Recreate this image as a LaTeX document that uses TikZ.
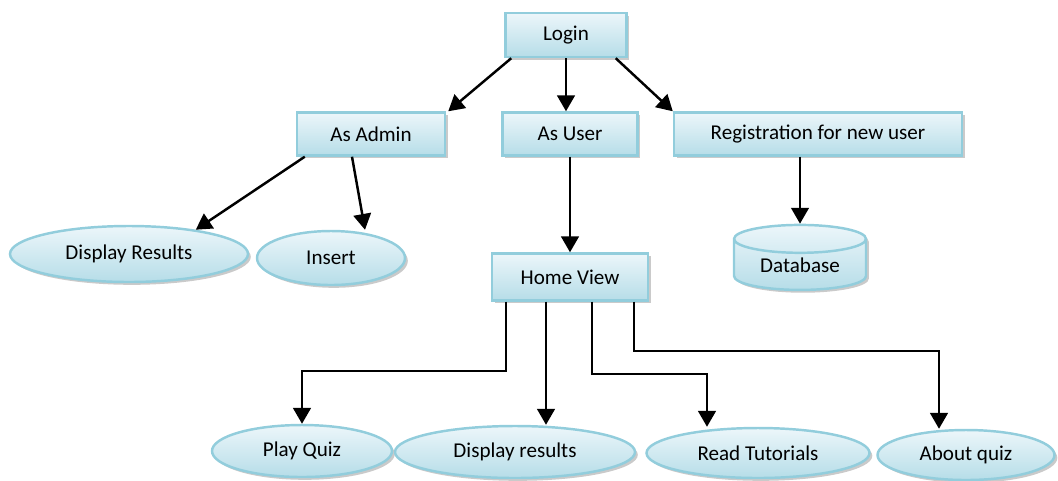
\documentclass[tikz,border=0pt]{standalone}
\usepackage{fontspec}
\setmainfont{Carlito}
\usetikzlibrary{arrows.meta,shapes.geometric,shadows,calc}
\definecolor{boxline}{RGB}{146,205,220}
\definecolor{boxtop}{RGB}{236,246,250}
\definecolor{boxbot}{RGB}{182,221,232}

\begin{document}
\begin{tikzpicture}[
  font=\fontsize{12}{14}\selectfont,
  base/.style={draw=boxline,line width=1.4pt,top color=boxtop,bottom color=boxbot,
    drop shadow={shadow xshift=1.6pt,shadow yshift=-1.6pt,fill=black!35,opacity=0.6},inner sep=0pt},
  box/.style={base,rectangle,minimum height=0.86cm},
  oval/.style={base,ellipse,minimum height=1.04cm},
  dbcyl/.style={base,cylinder,shape border rotate=90,aspect=0.35,minimum width=2.64cm,minimum height=1.3cm},
  link/.style={line width=1.4pt,-{Triangle[length=9pt,width=10pt]}}]
\useasboundingbox (0,0) rectangle (21.16,-9.6);
\node[box,minimum width=2.42cm,minimum height=0.88cm] (login) at (11.32,-0.70) {Login};
\node[box,minimum width=2.96cm] (admin) at (7.42,-2.68) {As Admin};
\node[box,minimum width=2.70cm] (user) at (11.40,-2.68) {As User};
\node[box,minimum width=5.76cm] (reg) at (16.36,-2.68) {Registration for new user};
\node[oval,minimum width=4.76cm,minimum height=1.12cm] (dispres) at (2.58,-5.08) {Display Results};
\node[oval,minimum width=2.96cm,minimum height=1.08cm] (insert) at (6.62,-5.16) {Insert};
\node[dbcyl] (db) at (16.0,-5.3) {Database};
\node[box,minimum width=3.12cm,minimum height=0.94cm] (home) at (11.40,-5.54) {Home View};
\node[oval,minimum width=3.6cm] (play) at (6.04,-9.02) {Play Quiz};
\node[oval,minimum width=4.8cm] (dres) at (10.30,-9.04) {Display results};
\node[oval,minimum width=4.46cm,minimum height=1.0cm] (read) at (15.16,-9.06) {Read Tutorials};
\node[oval,minimum width=3.54cm,minimum height=1.0cm] (about) at (19.32,-9.1) {About quiz};
\draw[link] ([xshift=0.14cm]login.south west) -- ([xshift=0.04cm]admin.north east);
\draw[link] (login.south) -- (login.south |- user.north);
\draw[link] ([xshift=-0.24cm]login.south east) -- (reg.north west);
\draw[link] ([xshift=0.18cm]admin.south west) -- (dispres.20);
\draw[link] ([xshift=-0.38cm]admin.south) -- ([xshift=0.68cm]insert.north);
\draw[link] (user.south) -- (home.north);
\draw[link] (db.north |- reg.south) -- (db.north);
\draw[link] ([xshift=0.3cm]home.south west) -- ++(0,-1.38) -| (play.north);
\draw[link] ([xshift=-0.48cm]home.south) -- ([xshift=-0.48cm]home.south |- dres.north);
\draw[link] ([xshift=0.44cm]home.south) -- ++(0,-1.44) -| ([xshift=-1.02cm]read.north);
\draw[link] ([xshift=1.28cm]home.south) -- ++(0,-0.98) -| ([xshift=-0.54cm]about.north);
\end{tikzpicture}
\end{document}
